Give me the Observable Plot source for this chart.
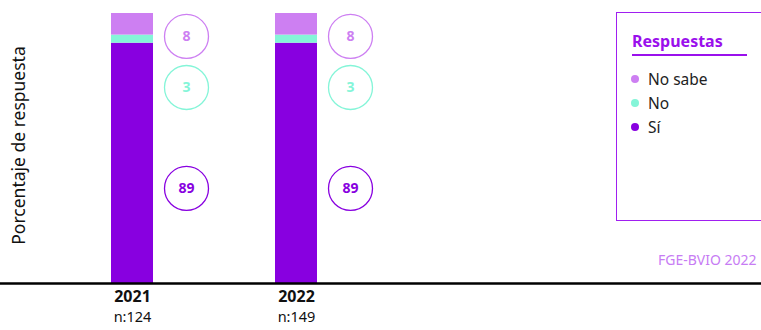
<!DOCTYPE html>
<html>
<head>
<meta charset="utf-8">
<script src="https://cdn.jsdelivr.net/npm/d3@7"></script>
<script src="https://cdn.jsdelivr.net/npm/@observablehq/plot@0.6"></script>
<style>
  html, body { margin: 0; padding: 0; background: #fff; overflow: hidden; }
  body { width: 761px; height: 330px; position: relative; font-family: "Noto Sans", sans-serif; }
  #chart { position: absolute; left: 0; top: 0; }
  #legend { position: absolute; left: 616px; top: 12px; width: 170px; height: 207px; border: 1.5px solid #a01ff0; box-sizing: content-box; }
  #legend .title { position: absolute; left: 15px; top: 17px; font-size: 16px; font-weight: bold; color: #9a10ec; }
  #legend .uline { position: absolute; left: 15px; top: 41px; width: 115px; height: 1.5px; background: #9a10ec; }
  #legend .item { position: absolute; left: 14px; font-size: 15.5px; color: #222; display: flex; align-items: center; }
  #legend .item span.dot { width: 8px; height: 8px; border-radius: 50%; display: inline-block; margin-right: 9px; }
  #source { position: absolute; left: 658px; top: 250px; font-size: 14px; color: #c77cf4; white-space: nowrap; }
</style>
</head>
<body>
<div id="chart"></div>
<div id="legend"></div>
<div id="source"></div>
<script>
// ---- data ----
const years = ["2021", "2022"];
const nLabels = ["n:124", "n:149"];
const categories = ["Sí", "No", "No sabe"];
const colors = ["#8800e0", "#84f5d8", "#cd7ff2"];
const si = [89, 89];
const no = [3, 3];
const noSabe = [8, 8];
const labelLevel = [35.2, 72.6, 91.5]; // vertical position of each value bubble (percent units)
const legendOrder = ["No sabe", "No", "Sí"];
const yLabel = "Porcentaje de respuesta";
const sourceText = "FGE-BVIO 2022";
const legendTitle = "Respuestas";

const series = [si, no, noSabe];
const data = [];
years.forEach((yr, i) => {
  categories.forEach((c, j) => {
    data.push({year: yr, resp: c, value: series[j][i], level: labelLevel[j]});
  });
});
const ticks = years.map((y, i) => ({year: y, n: nLabels[i]}));

const chart = Plot.plot({
  width: 761,
  height: 330,
  marginTop: 13,
  marginBottom: 47,
  marginLeft: 0,
  marginRight: 0,
  style: {fontFamily: "'Noto Sans', sans-serif", overflow: "visible"},
  x: {type: "band", domain: years, range: [110, 317], paddingInner: 0.745, paddingOuter: 0, axis: null},
  y: {domain: [0, 100], axis: null},
  color: {domain: categories, range: colors},
  marks: [
    Plot.barY(data, {x: "year", y: "value", fill: "resp", order: categories}),
    Plot.ruleY([0], {stroke: "#000", strokeWidth: 2.5}),
    Plot.dot(data, {x: "year", y: "level", r: 22, stroke: "resp", fill: "white", strokeWidth: 1.3, dx: 54}),
    Plot.text(data, {x: "year", y: "level", text: d => String(d.value), fill: "resp", fontWeight: "bold", fontSize: 14, dx: 54}),
    Plot.text(ticks, {x: "year", text: "year", frameAnchor: "bottom", dy: 18, fontWeight: "bold", fontSize: 16, fill: "#111"}),
    Plot.text(ticks, {x: "year", text: "n", frameAnchor: "bottom", dy: 38, fontSize: 14.5, fill: "#111"}),
    Plot.text([yLabel], {frameAnchor: "left", textAnchor: "middle", rotate: -90, dx: 19, dy: -3, fontSize: 17.5, fill: "#111"})
  ]
});
document.getElementById("chart").appendChild(chart);

// legend
const legend = document.getElementById("legend");
legend.innerHTML = `<div class="title">${legendTitle}</div><div class="uline"></div>`;
legendOrder.forEach((c, i) => {
  const it = document.createElement("div");
  it.className = "item";
  it.style.top = (55 + i * 24) + "px";
  it.innerHTML = `<span class="dot" style="background:${colors[categories.indexOf(c)]}"></span>${c}`;
  legend.appendChild(it);
});
document.getElementById("source").textContent = sourceText;
</script>
</body>
</html>
